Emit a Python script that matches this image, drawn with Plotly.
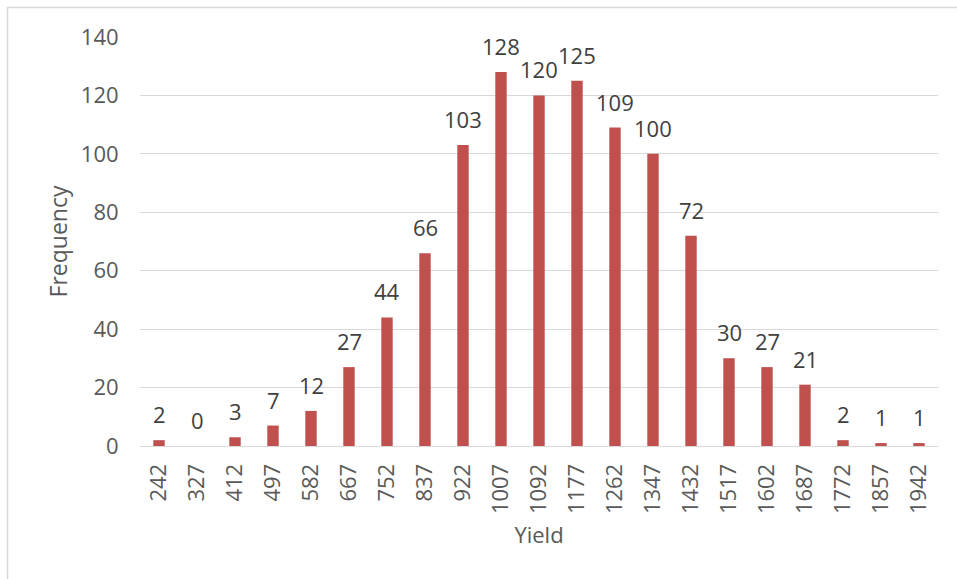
import plotly.graph_objects as go

yield_bins = ["242", "327", "412", "497", "582", "667", "752", "837", "922", "1007",
              "1092", "1177", "1262", "1347", "1432", "1517", "1602", "1687", "1772", "1857", "1942"]
frequency = [2, 0, 3, 7, 12, 27, 44, 66, 103, 128, 120, 125, 109, 100, 72, 30, 27, 21, 2, 1, 1]

W, H = 957, 579
L, R, T, B = 140, 19, 37, 133
pw, ph = W - L - R, H - T - B

FONT = "Open Sans"
fig = go.Figure(go.Bar(
    x=yield_bins, y=frequency,
    marker=dict(color="#C0504D", line=dict(width=0)),
    cliponaxis=False,
))

def px_x(p):
    return (p - L) / pw

def px_y(p):
    return (H - B - p) / ph

# on a category axis, annotation x is the category's index
annotations = [
    dict(x=i, y=v, xref="x", yref="y", text=str(v), showarrow=False,
         yanchor="middle", yshift=26,
         font=dict(family=FONT, size=22, color="#404040"))
    for i, v in enumerate(frequency)
]

fig.update_layout(
    width=W, height=H,
    margin=dict(l=L, r=R, t=T, b=B),
    paper_bgcolor="white", plot_bgcolor="white",
    bargap=0.7,
    showlegend=False,
    font=dict(family=FONT, color="#595959"),
    annotations=annotations,
    xaxis=dict(
        type="category", tickangle=-90,
        range=[-0.5, len(yield_bins) - 0.5],
        tickfont=dict(family=FONT, size=22, color="#595959"),
        showgrid=False, showline=True, linecolor="#D9D9D9", linewidth=1,
        ticks="outside", ticklen=8, tickcolor="rgba(0,0,0,0)",
        title=dict(text="Yield", font=dict(family=FONT, size=22, color="#595959"), standoff=14),
    ),
    yaxis=dict(
        range=[0, 140], dtick=20,
        tickfont=dict(family=FONT, size=22, color="#595959"),
        showgrid=True, gridcolor="#D9D9D9", gridwidth=1,
        zeroline=True, zerolinecolor="#D9D9D9", zerolinewidth=1,
        ticks="outside", ticklen=16, tickcolor="rgba(0,0,0,0)",
        title=dict(text="Frequency", font=dict(family=FONT, size=23, color="#595959"), standoff=6),
    ),
    shapes=[dict(
        type="rect", xref="paper", yref="paper",
        x0=px_x(7.5), x1=px_x(975), y0=px_y(7.5), y1=px_y(600),
        line=dict(color="#D9D9D9", width=1.5), fillcolor="rgba(0,0,0,0)", layer="below",
    )],
)

fig.write_html("out.html")
